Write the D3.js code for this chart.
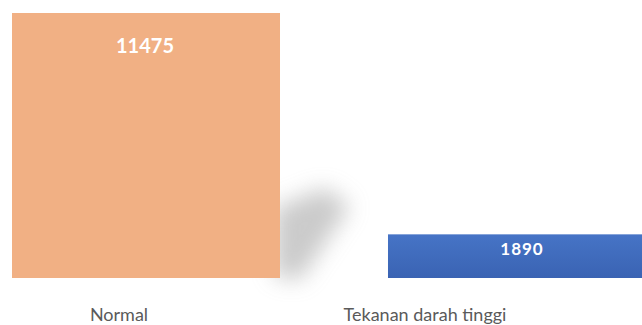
<!DOCTYPE html>
<html>
<head>
<meta charset="utf-8">
<script src="https://cdn.jsdelivr.net/npm/d3@7"></script>
<style>
  html, body { margin: 0; padding: 0; background: #fff; }
  svg { display: block; }
</style>
</head>
<body>
<div id="chart"></div>
<script>
// chart data
const categories = ["Normal", "Tekanan darah tinggi"];
const counts = [11475, 1890];

const width = 642;
const height = 325;
const baseY = 278; // bars sit on this line
const topY = 13;

const barFill = ["#f1b084", "url(#blueGrad)"];

const svg = d3
  .select("#chart")
  .append("svg")
  .attr("width", width)
  .attr("height", height)
  .attr("viewBox", [0, 0, width, height]);

const defs = svg.append("defs");

const grad = defs
  .append("linearGradient")
  .attr("id", "blueGrad")
  .attr("x1", 0)
  .attr("y1", 0)
  .attr("x2", 0)
  .attr("y2", 1);
grad.append("stop").attr("offset", "0%").attr("stop-color", "#4674c6");
grad.append("stop").attr("offset", "100%").attr("stop-color", "#3a63b3");

defs
  .append("filter")
  .attr("id", "blur")
  .attr("x", "-50%")
  .attr("y", "-50%")
  .attr("width", "200%")
  .attr("height", "200%")
  .append("feGaussianBlur")
  .attr("stdDeviation", 11);

// scales
const x = d3
  .scaleBand()
  .domain(categories)
  .range([12, 656])
  .paddingInner(0.2872)
  .paddingOuter(0);

const y = d3.scaleLinear().domain([0, d3.max(counts)]).range([baseY, topY]);

// labels under the bars are shifted (the original is a skewed picture)
const xLabel = d3.scalePoint().domain(categories).range([119, 425]);

// soft shadow behind the first bar
const sx = x(categories[0]) + x.bandwidth();
svg
  .append("path")
  .attr("d", d3.line()([
    [sx - 6, y(0) - 2],
    [sx - 6, y(0) - 70],
    [sx + 45, y(0) - 90],
    [sx + 70, y(0) - 72],
    [sx + 20, y(0) + 2],
  ]))
  .attr("fill", "#a8a8a8")
  .attr("opacity", 0.6)
  .attr("filter", "url(#blur)");

// bars
svg
  .selectAll(".bar")
  .data(categories)
  .join("rect")
  .attr("class", "bar")
  .attr("x", (d) => x(d))
  .attr("width", x.bandwidth())
  .attr("y", (d, i) => y(counts[i]))
  .attr("height", (d, i) => y(0) - y(counts[i]))
  .attr("fill", (d, i) => barFill[i]);

// value labels inside the bars
svg
  .selectAll(".value")
  .data(categories)
  .join("text")
  .attr("class", "value")
  .attr("x", (d, i) => x(d) + x.bandwidth() / 2 - (i === 0 ? 1 : 0))
  .attr("y", (d, i) => y(counts[i]) + (i === 0 ? 40 : 21))
  .attr("text-anchor", "middle")
  .attr("fill", "#fff")
  .attr("font-family", "Lato, 'Open Sans', sans-serif")
  .attr("font-weight", "bold")
  .attr("font-size", (d, i) => (i === 0 ? "20px" : "17px"))
  .attr("letter-spacing", (d, i) => (i === 0 ? "0px" : "1px"))
  .text((d, i) => counts[i]);

// category labels
svg
  .selectAll(".cat")
  .data(categories)
  .join("text")
  .attr("class", "cat")
  .attr("x", (d) => xLabel(d))
  .attr("y", 321)
  .attr("text-anchor", "middle")
  .attr("fill", "#5a5a5a")
  .attr("font-family", "Lato, 'Open Sans', sans-serif")
  .attr("font-size", "18px")
  .text((d) => d);
</script>
</body>
</html>
